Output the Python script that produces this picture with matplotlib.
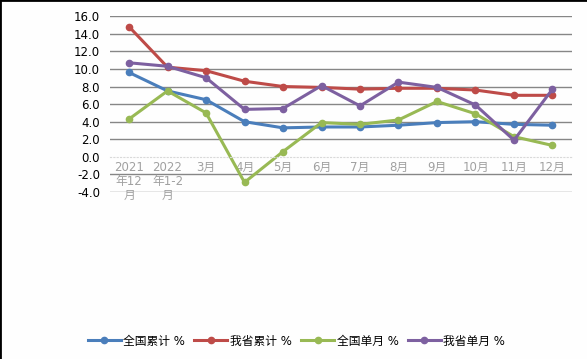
import matplotlib
matplotlib.use('Agg')
import matplotlib.pyplot as plt
from matplotlib.lines import Line2D

plt.rcParams['font.family'] = ['DejaVu Sans', 'Noto Sans CJK SC']

# --- data ---
months = ['2021\n年12\n月', '2022\n年1-2\n月', '3月', '4月', '5月', '6月',
          '7月', '8月', '9月', '10月', '11月', '12月']
national_cum = [9.6, 7.5, 6.5, 4.0, 3.3, 3.4, 3.4, 3.6, 3.9, 4.0, 3.7, 3.6]
province_cum = [14.8, 10.2, 9.8, 8.6, 8.0, 7.9, 7.7, 7.8, 7.8, 7.6, 7.0, 7.0]
national_month = [4.3, 7.5, 5.0, -2.9, 0.6, 3.9, 3.7, 4.2, 6.3, 4.9, 2.3, 1.3]
province_month = [10.7, 10.3, 9.0, 5.4, 5.5, 8.1, 5.8, 8.5, 7.9, 5.9, 1.9, 7.7]

series = [
    ('全国累计 %', national_cum, '#4a7ebb'),
    ('我省累计 %', province_cum, '#be4b48'),
    ('全国单月 %', national_month, '#98b954'),
    ('我省单月 %', province_month, '#7d60a0'),
]

fig = plt.figure(figsize=(5.87, 3.59), dpi=100)
fig.patch.set_facecolor('#fefefe')
ax = fig.add_axes([0.187, 0.465, 0.787, 0.49])
ax.set_facecolor('#fefefe')

x = list(range(len(months)))
for name, vals, color in series:
    ax.plot(x, vals, color=color, linewidth=2.2, marker='o', markersize=4.5,
            label=name, solid_capstyle='round')

ax.set_xlim(-0.5, len(months) - 0.5)
ax.set_ylim(-4, 16)
ax.set_yticks([v for v in range(-4, 17, 2)])
ax.set_yticklabels([f'{v:.1f}' for v in range(-4, 17, 2)], fontsize=8.5, color='black')

for v in range(-4, 17, 2):
    if v != 0:
        ax.axhline(v, color='#868686', linewidth=1.0, zorder=0)

for s in ['top', 'right', 'left']:
    ax.spines[s].set_visible(False)
ax.spines['bottom'].set_position(('data', 0))
ax.spines['bottom'].set_color('#d9d9d9')
ax.spines['bottom'].set_linestyle((0, (1, 2)))
ax.spines['bottom'].set_linewidth(0.8)

ax.set_xticks(x)
ax.set_xticklabels(months, fontsize=8.5, color='#a0a0a0', linespacing=1.1)
ax.tick_params(axis='x', length=0, pad=3)
ax.tick_params(axis='y', length=0, pad=7)

handles = [Line2D([0], [0], color=c, linewidth=2.2, marker='o', markersize=4.5)
           for _, _, c in series]
fig.legend(handles, [n for n, _, _ in series], loc='center',
           bbox_to_anchor=(0.505, 0.05), ncol=4, frameon=False, fontsize=8.5,
           handlelength=2.8, handletextpad=0.2, columnspacing=0.8)

# black frame on the top and left edges of the picture
fig.add_artist(Line2D([0, 0], [0, 1], transform=fig.transFigure, color='black', linewidth=2))
fig.add_artist(Line2D([0, 1], [1, 1], transform=fig.transFigure, color='black', linewidth=2))

fig.savefig('out.png', dpi=100, facecolor=fig.get_facecolor())
